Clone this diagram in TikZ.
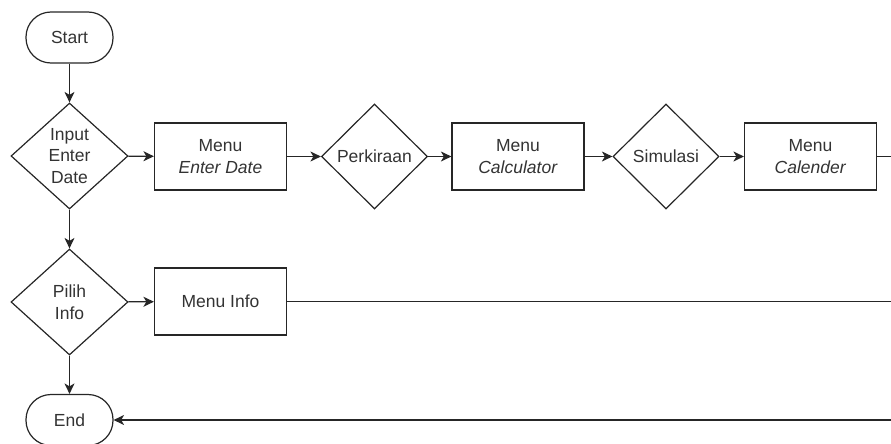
\documentclass[tikz,border=0pt]{standalone}
\usepackage{fontspec}
\setmainfont{Liberation Sans}
\usetikzlibrary{shapes.geometric,arrows.meta}
\definecolor{ln}{HTML}{262626}
\definecolor{tx}{HTML}{333333}
\begin{document}
\begin{tikzpicture}[x=1pt,y=-1pt,
  base/.style={draw=ln,line width=1.2pt,text=tx,inner sep=0pt,align=center,font=\fontsize{17.5}{21.5}\selectfont},
  term/.style={base,rectangle,rounded corners=25pt,minimum width=87pt,minimum height=51pt},
  proc/.style={base,rectangle,minimum width=132pt,minimum height=67pt},
  dec/.style={base,diamond,aspect=1.1,minimum width=117pt,minimum height=106pt},
  decs/.style={base,diamond,aspect=1,minimum width=106pt,minimum height=105pt},
  arr/.style={draw=ln,line width=1.2pt,-{Stealth[length=10.5pt,width=10pt,inset=3pt]}},
  ln/.style={draw=ln,line width=1.2pt}]
\useasboundingbox (0,0) rectangle (891,444);
\node[term] (start) at (69.5,37.5) {Start};
\node[dec] (inp) at (69.5,156) {Input\\Enter\\Date};
\node[proc] (med) at (220.5,156.5) {Menu\\\textit{Enter Date}};
\node[decs] (perk) at (374.5,156.5) {Perkiraan};
\node[proc] (mcalc) at (518,156.5) {Menu\\\textit{Calculator}};
\node[decs] (sim) at (666,156.5) {Simulasi};
\node[proc] (mcal) at (810.5,156.5) {Menu\\\textit{Calender}};
\node[dec] (pil) at (69.5,302) {Pilih\\Info};
\node[proc] (minfo) at (220.5,301.5) {Menu Info};
\node[term] (end) at (69.5,420) {End};
\coordinate (r1) at (891,156.5);
\coordinate (r2) at (891,301.5);
\coordinate (r3) at (891,420);
\draw[arr] (start) -- (inp);
\draw[arr] (inp) -- (med);
\draw[arr] (med) -- (perk);
\draw[arr] (perk) -- (mcalc);
\draw[arr] (mcalc) -- (sim);
\draw[arr] (sim) -- (mcal);
\draw[ln] (mcal) -- (r1);
\draw[arr] (inp) -- (pil);
\draw[arr] (pil) -- (minfo);
\draw[ln] (minfo) -- (r2);
\draw[arr] (pil) -- (end);
\draw[arr] (r3) -- (end);
\end{tikzpicture}
\end{document}
